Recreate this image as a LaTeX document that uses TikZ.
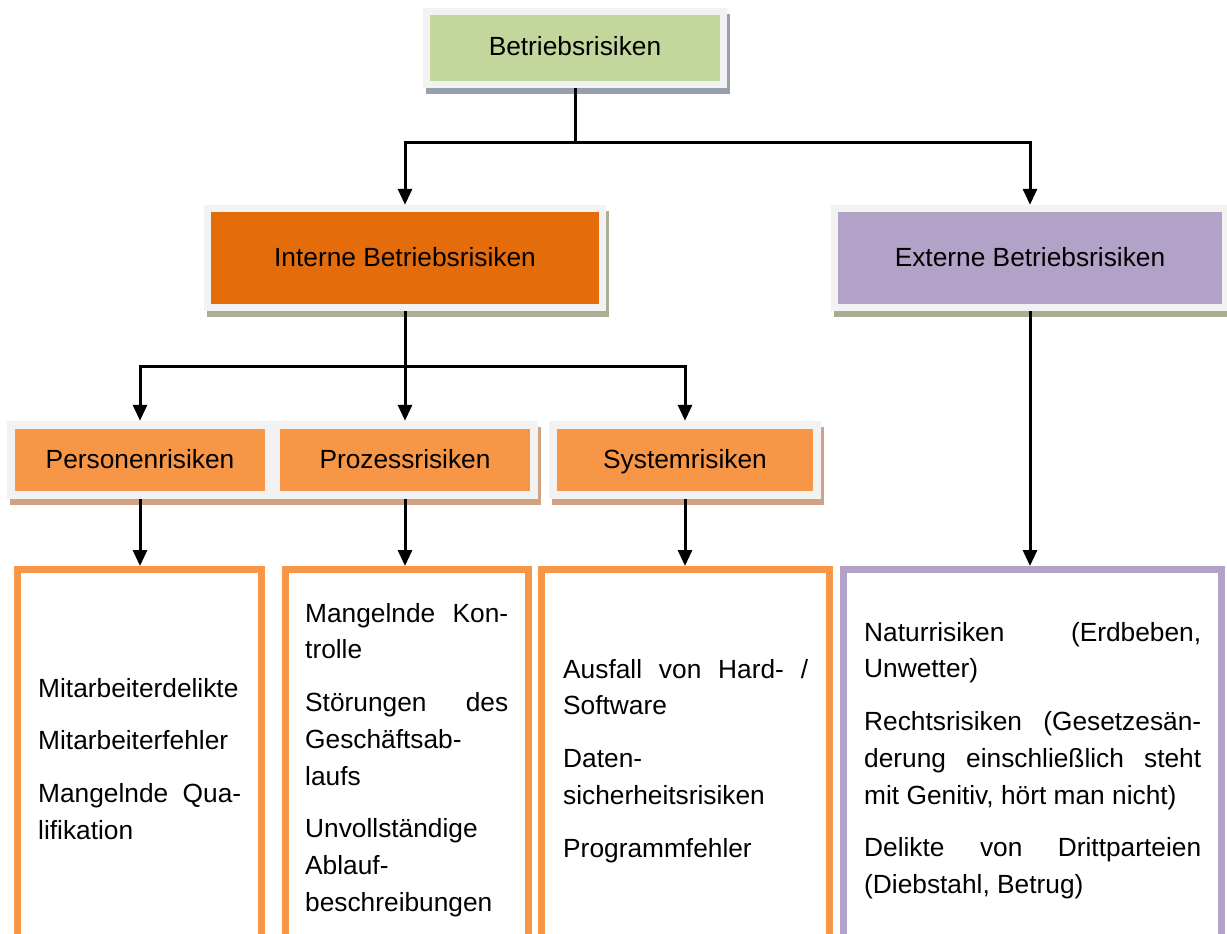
\documentclass[tikz,border=0pt]{standalone}
\usepackage{fontspec}
\setmainfont{Liberation Sans}
\usetikzlibrary{arrows.meta,shadows}
\definecolor{frameg}{HTML}{F2F2F2}
\definecolor{cgreen}{HTML}{C3D69B}
\definecolor{corange}{HTML}{E46C0A}
\definecolor{cpurple}{HTML}{B2A2C7}
\definecolor{clight}{HTML}{F79646}
\definecolor{shtop}{HTML}{97A0AD}
\definecolor{shint}{HTML}{A8B197}
\definecolor{shext}{HTML}{A7AE8F}
\definecolor{shsmall}{HTML}{D0A283}
\newcommand{\fsz}{\fontsize{26.3}{36.7}\selectfont}
\begin{document}
\begin{tikzpicture}[x=1pt,y=-1pt,
  frm/.style={fill=frameg,inner sep=0pt},
  inr/.style={inner sep=0pt,font=\fsz,text height=19pt,text depth=3pt},
  ln/.style={line width=3pt},
  arr/.style={line width=3pt,-{Triangle[width=14pt,length=16pt]}},
  shd/.style={drop shadow={shadow xshift=3pt,shadow yshift=-6pt,fill=#1,opacity=1}},
  lst/.style={line width=7pt,fill=white,inner sep=0pt},
  txt/.style={anchor=north west,inner sep=0pt,align=left,font=\fsz}
]
\useasboundingbox (0,0) rectangle (1227,934);
\fill[white] (0,0) rectangle (1227,934);

% top box
\node[frm,shd=shtop,minimum width=304pt,minimum height=80pt] (topF) at (575,48) {};
\node[inr,fill=cgreen,minimum width=290pt,minimum height=66pt] (top) at (575,48) {Betriebsrisiken};

% second level
\node[frm,shd=shint,minimum width=402pt,minimum height=106pt] (intF) at (405,258) {};
\node[inr,fill=corange,minimum width=388pt,minimum height=92pt] (int) at (405,258) {Interne Betriebsrisiken};
\node[frm,shd=shext,minimum width=398pt,minimum height=106pt] (extF) at (1030,258) {};
\node[inr,fill=cpurple,minimum width=384pt,minimum height=92pt] (ext) at (1030,258) {Externe Betriebsrisiken};

% third level
\node[frm,shd=shsmall,minimum width=266pt,minimum height=78pt] (persF) at (140,460) {};
\node[inr,fill=clight,minimum width=250pt,minimum height=62pt] (pers) at (140,460) {Personenrisiken};
\node[frm,shd=shsmall,minimum width=266pt,minimum height=78pt] (prozF) at (405,460) {};
\node[inr,fill=clight,minimum width=250pt,minimum height=62pt] (proz) at (405,460) {Prozessrisiken};
\node[frm,shd=shsmall,minimum width=272pt,minimum height=78pt] (sysF) at (685,460) {};
\node[inr,fill=clight,minimum width=256pt,minimum height=62pt] (sys) at (685,460) {Systemrisiken};

% bottom list boxes
\node[lst,draw=clight,minimum width=244pt,minimum height=381pt] (persL) at (139.5,760) {};
\node[lst,draw=clight,minimum width=243.5pt,minimum height=381pt] (prozL) at (406.75,760) {};
\node[lst,draw=clight,minimum width=288pt,minimum height=381pt] (sysL) at (685.5,760) {};
\node[lst,draw=cpurple,minimum width=378.5pt,minimum height=381pt] (extL) at (1032.25,760) {};

% connectors
\coordinate (j1) at (575,142);
\coordinate (j2) at (405,366);
\draw[ln] (topF.south) -- (j1);
\draw[arr] (j1) -| (intF.north);
\draw[arr] (j1) -| (extF.north);
\draw[ln] (intF.south) -- (j2);
\draw[arr] (j2) -| (persF.north);
\draw[arr] (j2) -- (prozF.north);
\draw[arr] (j2) -| (sysF.north);
\draw[arr] (persF.south) -- (persF.south |- persL.north);
\draw[arr] (prozF.south) -- (prozF.south |- prozL.north);
\draw[arr] (sysF.south) -- (sysF.south |- sysL.north);
\draw[arr] (extF.south) -- (extF.south |- extL.north);

% texts
\node[txt] (persT) at (38,673) {\rule{0pt}{24pt}Mitarbeiterdelikte\\[16pt]
  Mitarbeiterfehler\\[16pt]
  \makebox[203pt][s]{Mangelnde Qua-}\\
  lifikation};
\node[txt] (prozT) at (305,598) {\rule{0pt}{24pt}\makebox[203pt][s]{Mangelnde Kon-}\\
  trolle\\[16pt]
  \makebox[203pt][s]{Störungen des}\\
  Geschäftsab-\\
  laufs\\[16pt]
  Unvollständige\\
  Ablauf-\\
  beschreibungen};
\node[txt] (sysT) at (563,654) {\rule{0pt}{24pt}\makebox[245pt][s]{Ausfall von Hard- /}\\
  Software\\[16pt]
  Daten-\\
  sicherheitsrisiken\\[16pt]
  Programmfehler};
\node[txt] (extT) at (864,617) {\rule{0pt}{24pt}\makebox[337pt][s]{Naturrisiken (Erdbeben,}\\
  Unwetter)\\[16pt]
  \makebox[337pt][s]{Rechtsrisiken (Gesetzesän-}\\
  \makebox[337pt][s]{derung einschließlich steht}\\
  mit Genitiv, hört man nicht)\\[16pt]
  \makebox[337pt][s]{Delikte von Drittparteien}\\
  (Diebstahl, Betrug)};
\end{tikzpicture}
\end{document}
